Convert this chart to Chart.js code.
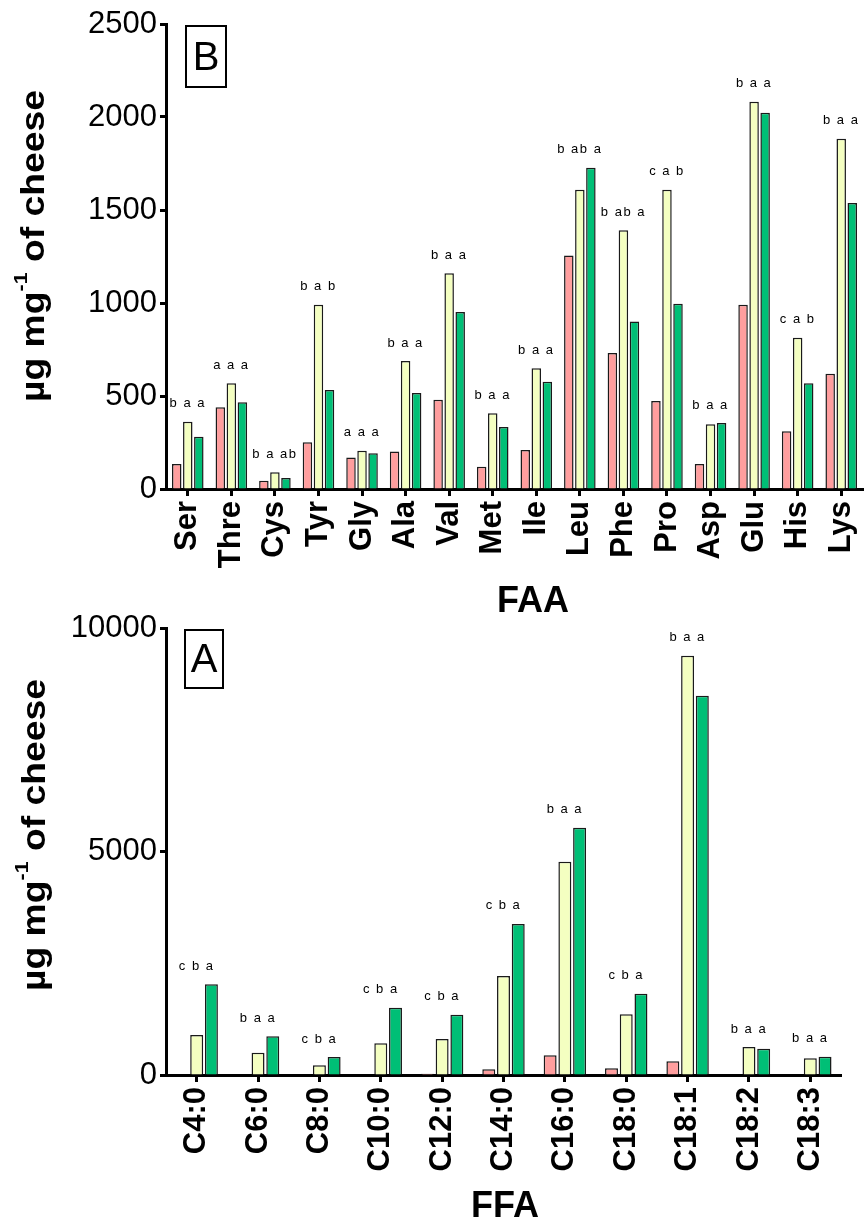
<!DOCTYPE html>
<html>
<head>
<meta charset="utf-8">
<script src="https://cdn.jsdelivr.net/npm/chart.js@4.4.1/dist/chart.umd.min.js"></script>
<style>
  body { margin: 0; background: #fff; width: 864px; height: 1227px; position: relative; overflow: hidden; }
  canvas { position: absolute; left: 0; }
  #chartFAA { top: 0; }
  #chartFFA { top: 615px; }
</style>
</head>
<body>
<canvas id="chartFAA" width="864" height="615"></canvas>
<canvas id="chartFFA" width="864" height="612"></canvas>
<script>
//DATOS - FAA (panel B)
const faaLabels = ["Ser", "Thre", "Cys", "Tyr", "Gly", "Ala", "Val", "Met", "Ile", "Leu", "Phe", "Pro", "Asp", "Glu", "His", "Lys"];
const faaPink = [134, 439, 45, 251, 170, 201, 480, 120, 210, 1256, 731, 473, 134, 991, 310, 620];
const faaYellow = [362, 568, 90, 991, 206, 688, 1160, 407, 649, 1609, 1391, 1609, 348, 2082, 813, 1883];
const faaGreen = [281, 466, 59, 532, 192, 516, 952, 333, 577, 1727, 901, 996, 355, 2023, 568, 1538];
const faaLetters = ["b a a", "a a a", "b a ab", "b a b", "a a a", "b a a", "b a a", "b a a", "b a a", "b ab a", "b ab a", "c a b", "b a a", "b a a", "c a b", "b a a"];
const faaTicks = [0, 500, 1000, 1500, 2000, 2500];

//DATOS - FFA (panel A)
const ffaLabels = ["C4:0", "C6:0", "C8:0", "C10:0", "C12:0", "C14:0", "C16:0", "C18:0", "C18:1", "C18:2", "C18:3"];
const ffaPink = [0, 0, 0, 0, 30, 128, 441, 150, 307, 0, 0];
const ffaYellow = [895, 500, 217, 710, 806, 2216, 4768, 1359, 9380, 627, 374];
const ffaGreen = [2030, 866, 403, 1507, 1350, 3380, 5530, 1820, 8485, 589, 410];
const ffaLetters = ["c b a", "b a a", "c b a", "c b a", "c b a", "c b a", "b a a", "c b a", "b a a", "b a a", "b a a"];
const ffaTicks = [0, 5000, 10000];

const PINK = "#FF9E9E";
const YELLOW = "#F4FFC1";
const GREEN = "#00BF76";
const EDGE = "#1a1a1a";
const FONT = "'Liberation Sans', Arial, sans-serif";

// letras de significancia + recuadro del panel + titulos de ejes
const decoPlugin = {
  id: "deco",
  afterDatasetsDraw(chart, args, opts) {
    const ctx = chart.ctx;
    const metas = [0, 1, 2].map((i) => chart.getDatasetMeta(i));
    ctx.save();
    ctx.fillStyle = "#000";
    ctx.font = "13px " + FONT;
    if ("letterSpacing" in ctx) ctx.letterSpacing = "1.5px";
    ctx.textAlign = "center";
    ctx.textBaseline = "middle";
    opts.letters.forEach((txt, j) => {
      let top = Math.min(metas[0].data[j].y, metas[1].data[j].y, metas[2].data[j].y);
      ctx.fillText(txt, metas[1].data[j].x, top - 18);
    });
    ctx.restore();
  },
  afterDraw(chart, args, opts) {
    const ctx = chart.ctx;
    ctx.save();
    // recuadro con la letra del panel
    const b = opts.box;
    ctx.strokeStyle = "#000";
    ctx.lineWidth = 2;
    ctx.strokeRect(b[0], b[1], b[2], b[3]);
    ctx.fillStyle = "#000";
    ctx.font = "40px " + FONT;
    ctx.textAlign = "center";
    ctx.textBaseline = "middle";
    ctx.fillText(opts.panel, b[0] + b[2] / 2, b[1] + b[3] / 2 + 2);

    // titulo eje x
    ctx.font = "bold 36px " + FONT;
    ctx.fillText(opts.xTitle, opts.xTitleX, opts.xTitleY);

    // titulo eje y con superindice
    ctx.translate(opts.yTitleX, opts.yTitleY);
    ctx.rotate(-Math.PI / 2);
    const big = "bold 33px " + FONT;
    const small = "bold 19px " + FONT;
    ctx.textAlign = "left";
    ctx.textBaseline = "alphabetic";
    ctx.font = big;
    const w1 = ctx.measureText("µg mg").width;
    const w3 = ctx.measureText(" of cheese").width;
    ctx.font = small;
    const w2 = ctx.measureText("-1").width;
    const total = w1 + w2 + w3;
    ctx.scale(312 / total, 1);
    let x = -total / 2;
    ctx.font = big;
    ctx.fillText("µg mg", x, 0);
    x += w1;
    ctx.font = small;
    ctx.fillText("-1", x, -17);
    x += w2;
    ctx.font = big;
    ctx.fillText(" of cheese", x, 0);
    ctx.restore();
  },
};

function crearGrafico(id, labels, pink, yellow, green, ticksY, deco, area, barras) {
  const data = {
    labels: labels,
    datasets: [
      { label: "1", data: pink, backgroundColor: PINK },
      { label: "2", data: yellow, backgroundColor: YELLOW },
      { label: "3", data: green, backgroundColor: GREEN },
    ].map((d) => Object.assign(d, {
      borderColor: EDGE,
      borderWidth: 1.5,
      borderSkipped: "bottom",
      categoryPercentage: barras.cat,
      barPercentage: barras.bar,
    })),
  };

  const config = {
    type: "bar",
    data: data,
    plugins: [decoPlugin],
    options: {
      responsive: false,
      animation: false,
      devicePixelRatio: 1,
      layout: { padding: { left: 0, right: area.right, top: area.top, bottom: 0 } },
      plugins: {
        legend: { display: false },
        tooltip: { enabled: false },
        deco: deco,
      },
      scales: {
        x: {
          ticks: {
            color: "#000",
            autoSkip: false,
            maxRotation: 90,
            minRotation: 90,
            padding: 5,
            font: { family: FONT, size: 31, weight: "bold" },
          },
          grid: {
            display: true,
            offset: false,
            drawOnChartArea: false,
            drawTicks: true,
            tickLength: 7,
            tickWidth: 3,
            tickColor: "#000",
          },
          border: { display: true, color: "#000", width: 3 },
          afterFit: (s) => {
            s.height = area.xHeight;
            s.paddingLeft = 0;
            s.paddingRight = 0;
          },
        },
        y: {
          min: ticksY[0],
          max: ticksY[ticksY.length - 1],
          afterBuildTicks: (s) => {
            s.ticks = ticksY.map((v) => ({ value: v }));
          },
          ticks: {
            color: "#000",
            padding: 3,
            font: { family: FONT, size: 31 },
            callback: (v) => String(v),
          },
          grid: {
            display: true,
            drawOnChartArea: false,
            drawTicks: true,
            tickLength: 6,
            tickWidth: 3,
            tickColor: "#000",
          },
          border: { display: true, color: "#000", width: 3 },
          afterFit: (s) => {
            s.width = 166;
            s.paddingTop = 0;
            s.paddingBottom = 0;
          },
        },
      },
    },
  };
  return new Chart(document.getElementById(id), config);
}

//EVENTOS
crearGrafico("chartFAA", faaLabels, faaPink, faaYellow, faaGreen, faaTicks,
  { letters: faaLetters, panel: "B", box: [186, 26, 40, 61], xTitle: "FAA", xTitleX: 533, xTitleY: 602, yTitleX: 44, yTitleY: 246 },
  { top: 24, right: 1, xHeight: 126 },
  { cat: 0.76, bar: 0.86 });

crearGrafico("chartFFA", ffaLabels, ffaPink, ffaYellow, ffaGreen, ffaTicks,
  { letters: ffaLetters, panel: "A", box: [185, 15, 38, 58], xTitle: "FFA", xTitleX: 505, xTitleY: 592, yTitleX: 45, yTitleY: 220 },
  { top: 13, right: 23, xHeight: 152 },
  { cat: 0.72, bar: 0.88 });
</script>
</body>
</html>
